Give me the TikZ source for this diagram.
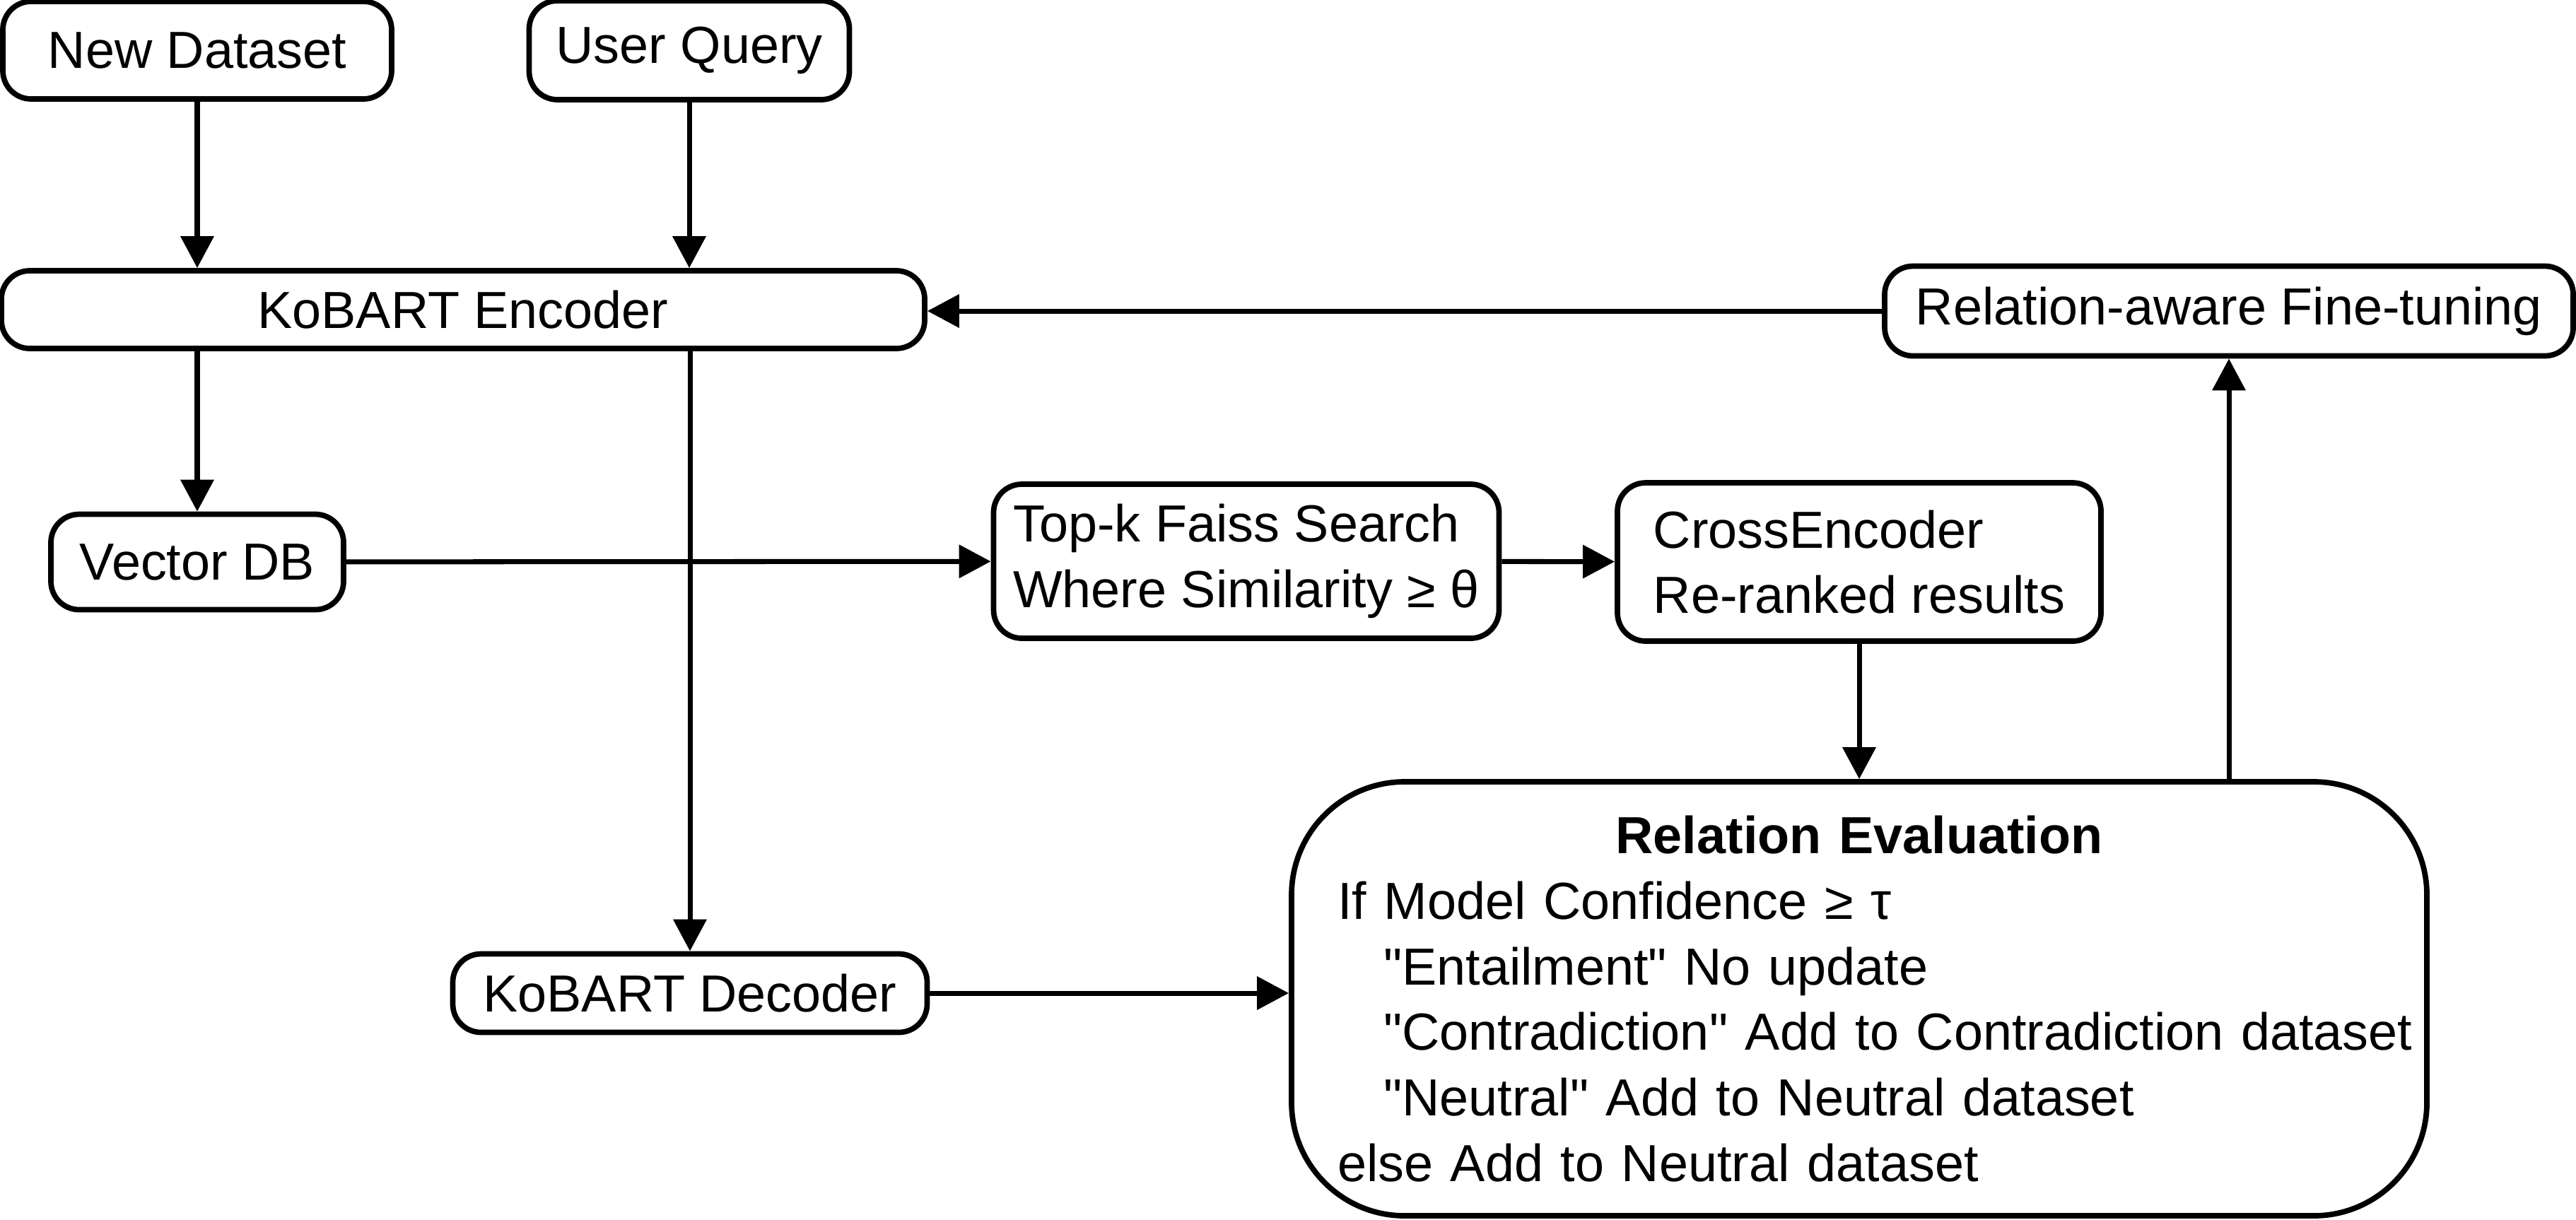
\documentclass[tikz,border=0pt]{standalone}
\usepackage{fontspec}
\setmainfont{Liberation Sans}
\usetikzlibrary{arrows.meta}

\begin{document}
\begin{tikzpicture}[every node/.style={font=\fontsize{21}{26.4}\selectfont},
    block/.style={draw, line width=2.2pt, rounded corners=0.4cm, align=left, inner xsep=0.2cm},
    flow/.style={line width=2pt, -{Triangle[length=0.45cm, width=0.46cm]}}]
    \useasboundingbox (0,0) rectangle (36.44,-17.25);
    % inputs and encoder
    \node[block, minimum width=5.50cm, minimum height=1.38cm] (newdata) at (2.79,-0.71) {New Dataset};
    \node[block, minimum width=4.53cm, minimum height=1.40cm] (query) at (9.75,-0.71) {User Query};
    \node[block, minimum width=13.06cm, minimum height=1.10cm] (encoder) at (6.55,-4.38) {KoBART Encoder};
    \node[block, minimum width=9.74cm, minimum height=1.27cm] (finetune) at (31.53,-4.40) {Relation-aware Fine-tuning};
    % retrieval
    \node[block, minimum width=4.14cm, minimum height=1.35cm] (vectordb) at (2.79,-7.95) {Vector DB};
    \node[block, minimum width=7.15cm, minimum height=2.18cm] (topk) at (17.63,-7.94) {Top-k Faiss Search\\Where Similarity ≥ θ};
    \node[block, minimum width=6.84cm, minimum height=2.24cm] (rerank) at (26.30,-7.95) {CrossEncoder\\Re-ranked results};
    % decoding and evaluation
    \node[block, minimum width=6.71cm, minimum height=1.11cm] (decoder) at (9.76,-14.05) {KoBART Decoder};
    \node[block, rounded corners=1.6cm, text width=15.86cm, inner xsep=0.1cm, minimum height=6.14cm] (releval) at (26.30,-14.13) {%
        \hspace*{\fill}\textbf{Relation Evaluation}\hspace*{\fill}\mbox{}\\
        \hspace*{0.55cm}If Model Confidence ≥ τ\\
        \hspace*{1.20cm}\textquotedbl Entailment\textquotedbl{} No update\\
        \hspace*{1.20cm}\textquotedbl Contradiction\textquotedbl{} Add to Contradiction dataset\\
        \hspace*{1.20cm}\textquotedbl Neutral\textquotedbl{} Add to Neutral dataset\\
        \hspace*{0.55cm}else Add to Neutral dataset};
    \draw[flow] (newdata) -- (newdata |- encoder.north);
    \draw[flow] (query) -- (query |- encoder.north);
    \draw[flow] (encoder.south -| vectordb) -- (vectordb);
    \draw[flow] (encoder.south -| decoder) -- (decoder);
    \draw[flow] (vectordb) -- (topk);
    \draw[flow] (topk) -- (rerank);
    \draw[flow] (rerank) -- (releval);
    \draw[flow] (decoder) -- (decoder -| releval.west);
    \draw[flow] (releval.north -| finetune) -- (finetune);
    \draw[flow] (finetune) -- (finetune -| encoder.east);
\end{tikzpicture}
\end{document}
